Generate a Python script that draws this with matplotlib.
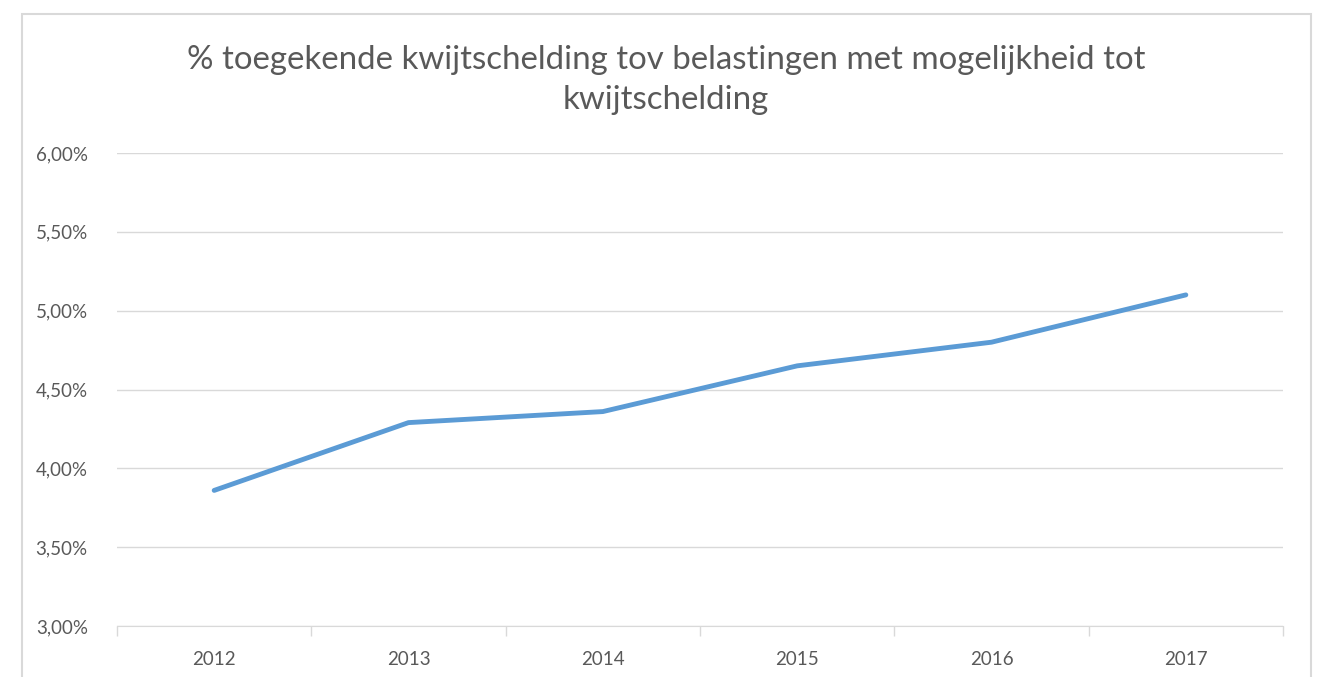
import matplotlib.pyplot as plt
from matplotlib.patches import Rectangle
from matplotlib.ticker import FuncFormatter, FixedLocator

years = ['2012', '2013', '2014', '2015', '2016', '2017']
pct = [3.86, 4.29, 4.36, 4.65, 4.80, 5.10]

plt.rcParams['font.family'] = ['Lato', 'DejaVu Sans']

W, H = 1319, 677
fig = plt.figure(figsize=(W / 100, H / 100), dpi=100)
fig.patch.set_facecolor('white')

# chart border (bottom edge cut off in the reference)
fig.patches.append(Rectangle((22 / W, -0.05), (1311 - 22) / W, 1.05 - 14 / H,
                             transform=fig.transFigure, fill=False,
                             edgecolor='#d9d9d9', linewidth=1.5))

ax = fig.add_axes([117 / W, 51 / H, (1283 - 117) / W, (626 - 153) / H])
x = list(range(len(years)))
ax.plot(x, pct, color='#5b9bd5', linewidth=3.5, solid_capstyle='round')

ax.set_xlim(-0.5, len(years) - 0.5)
ax.set_ylim(3.0, 6.0)
ax.set_yticks([3.0, 3.5, 4.0, 4.5, 5.0, 5.5, 6.0])
ax.yaxis.set_major_formatter(FuncFormatter(lambda v, p: f'{v:.2f}%'.replace('.', ',')))
ax.grid(axis='y', color='#d9d9d9', linewidth=1)
ax.set_axisbelow(True)

ax.set_xticks(x)
ax.set_xticklabels(years)
ax.xaxis.set_minor_locator(FixedLocator([i - 0.5 for i in range(len(years) + 1)]))
ax.tick_params(axis='x', which='major', length=0, pad=18, labelsize=13.5, labelcolor='#595959')
ax.tick_params(axis='x', which='minor', length=7, color='#d9d9d9', width=1)
ax.tick_params(axis='y', length=0, pad=21, labelsize=13.5, labelcolor='#595959')

for s in ['top', 'right', 'left']:
    ax.spines[s].set_visible(False)
ax.spines['bottom'].set_color('#d9d9d9')

fig.text(666 / W, 1 - 80 / H,
         '% toegekende kwijtschelding tov belastingen met mogelijkheid tot\nkwijtschelding',
         ha='center', va='center', fontsize=23.8, color='#595959', linespacing=1.45)

plt.savefig('out.png', dpi=100)
